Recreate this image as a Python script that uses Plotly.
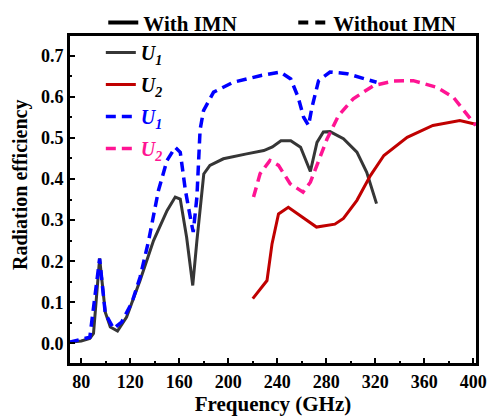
import plotly.graph_objects as go

# With IMN, U1 (black)
f_u1_with = [70, 80, 87, 90, 95, 99.6, 103.7, 109.6, 117, 128, 139, 150, 156.7, 160.8, 166, 171, 174.4,
             180, 185, 196, 215, 229, 236, 243, 251, 259, 267, 272.4, 277.6, 283, 294, 305, 313, 321]
e_u1_with = [0.003, 0.006, 0.012, 0.024, 0.207, 0.076, 0.04, 0.03, 0.064, 0.153, 0.25, 0.323, 0.356, 0.351,
             0.258, 0.141, 0.25, 0.412, 0.433, 0.449, 0.461, 0.469, 0.478, 0.493, 0.493, 0.477, 0.418, 0.489,
             0.514, 0.515, 0.498, 0.465, 0.416, 0.34]

# With IMN, U2 (red)
f_u2_with = [220, 231.6, 235.7, 241, 249, 259, 272, 287, 294, 305, 316, 327, 346, 367, 389, 402]
e_u2_with = [0.109, 0.153, 0.242, 0.315, 0.331, 0.311, 0.283, 0.29, 0.304, 0.348, 0.408, 0.457, 0.501,
             0.53, 0.542, 0.533]

# Without IMN, U1 (blue dashed)
f_u1_wo = [70, 87, 95, 99.6, 106.4, 113, 121.4, 128, 135, 143, 150, 156.7, 160.8, 165, 170, 171.4, 174.4,
           177, 179.8, 188, 204, 226, 242.4, 251, 257, 261.5, 265.5, 268.3, 273.7, 283, 296.9, 313, 321]
e_u1_wo = [0.003, 0.015, 0.206, 0.073, 0.036, 0.052, 0.1, 0.161, 0.25, 0.372, 0.445, 0.477, 0.465, 0.372,
           0.291, 0.271, 0.356, 0.52, 0.566, 0.611, 0.635, 0.651, 0.66, 0.643, 0.599, 0.55, 0.53, 0.574,
           0.639, 0.66, 0.656, 0.643, 0.635]

# Without IMN, U2 (pink dashed)
f_u2_wo = [220.6, 226, 234, 241, 250.6, 261, 267, 273.7, 280.6, 290, 302, 318.6, 335, 351, 370, 383.6,
           394.5, 402]
e_u2_wo = [0.356, 0.413, 0.445, 0.433, 0.388, 0.368, 0.392, 0.445, 0.497, 0.554, 0.595, 0.627, 0.638,
           0.639, 0.623, 0.599, 0.558, 0.53]

x_ticks = [80, 120, 160, 200, 240, 280, 320, 360, 400]
y_ticks = [0.0, 0.1, 0.2, 0.3, 0.4, 0.5, 0.6, 0.7]

FONT = "Liberation Serif"
BLACK = "#363636"
RED = "#c00000"
BLUE = "#0000ff"
PINK = "#ff1493"
DASH = "10px,6px"

fig = go.Figure()
fig.add_trace(go.Scatter(x=f_u1_with, y=e_u1_with, mode="lines",
                         line=dict(color=BLACK, width=3), legendgroup="a",
                         name="<b><i>U<sub>1</sub></i></b>", legend="legend"))
fig.add_trace(go.Scatter(x=f_u2_with, y=e_u2_with, mode="lines",
                         line=dict(color=RED, width=3), legendgroup="b",
                         name="<b><i>U<sub>2</sub></i></b>", legend="legend"))
fig.add_trace(go.Scatter(x=f_u1_wo, y=e_u1_wo, mode="lines",
                         line=dict(color=BLUE, width=3.5, dash=DASH), legendgroup="c",
                         name="<span style='color:#0000ff'><b><i>U<sub>1</sub></i></b></span>",
                         legend="legend"))
fig.add_trace(go.Scatter(x=f_u2_wo, y=e_u2_wo, mode="lines",
                         line=dict(color=PINK, width=3.5, dash=DASH), legendgroup="d",
                         name="<span style='color:#ff1493'><b><i>U<sub>2</sub></i></b></span>",
                         legend="legend"))
# Top legend entries
fig.add_trace(go.Scatter(x=[None], y=[None], mode="lines", line=dict(color="black", width=4),
                         name="<b>With IMN</b>", legend="legend2"))
fig.add_trace(go.Scatter(x=[None], y=[None], mode="lines", line=dict(color="black", width=4, dash="10px,7px"),
                         name="<b>Without IMN</b>", legend="legend2"))

axis_common = dict(
    showline=True, linecolor="black", linewidth=2, mirror=True,
    ticks="inside", ticklen=6, tickwidth=2, tickcolor="black",
    showgrid=False, zeroline=False,
    tickfont=dict(family=FONT, size=18, color="black"),
)

fig.update_xaxes(range=[70, 403], tickvals=x_ticks, ticktext=[f"<b>{v}</b>" for v in x_ticks],
                 minor=dict(ticks="inside", ticklen=3, tickwidth=2, tickcolor="black", dtick=20, tick0=80),
                 title=dict(text="<b>Frequency (GHz)</b>", font=dict(family=FONT, size=21, color="black"),
                            standoff=0),
                 **axis_common)
fig.update_yaxes(range=[-0.05, 0.75], tickvals=y_ticks, ticktext=[f"<b>{v:.1f}</b>" for v in y_ticks],
                 minor=dict(ticks="inside", ticklen=3, tickwidth=2, tickcolor="black", dtick=0.05, tick0=0),
                 **axis_common)

fig.add_annotation(text="<b>Radiation efficiency</b>", xref="paper", yref="paper",
                   x=-0.12, y=0.544, xanchor="center", yanchor="middle", textangle=-90,
                   showarrow=False, font=dict(family=FONT, size=20, color="black"))

# plot frame (top edge drawn explicitly)
fig.add_shape(type="line", xref="paper", yref="paper", x0=0, x1=1, y0=1, y1=1,
              line=dict(color="black", width=2), layer="above")
fig.add_shape(type="rect", xref="paper", yref="paper", x0=0, x1=1, y0=0, y1=1,
              line=dict(color="black", width=2), fillcolor="rgba(0,0,0,0)", layer="above")

fig.update_layout(
    width=494, height=416,
    margin=dict(l=69, r=17, t=35, b=52, autoexpand=False),
    plot_bgcolor="white", paper_bgcolor="white",
    font=dict(family=FONT, color="black"),
    legend=dict(x=0.078, y=1.006, xanchor="left", yanchor="top", bgcolor="rgba(255,255,255,0)",
                borderwidth=0, font=dict(family=FONT, size=20, color="black"), tracegroupgap=3),
    legend2=dict(x=0.084, y=1.099, xanchor="left", yanchor="top", orientation="h",
                 bgcolor="rgba(255,255,255,0)", borderwidth=0,
                 font=dict(family=FONT, size=21, color="black"),
                 entrywidthmode="pixels", entrywidth=145),
)

fig.write_html("out.html")
